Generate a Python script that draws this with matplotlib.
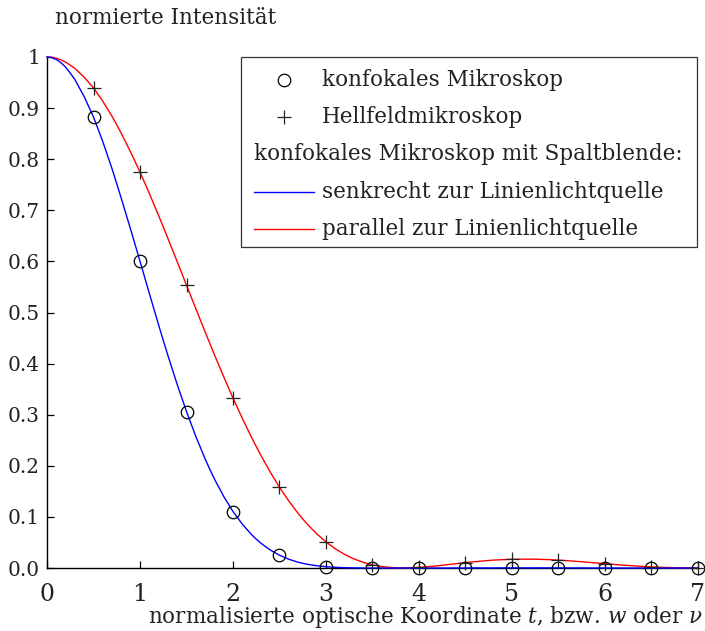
import matplotlib
matplotlib.use("Agg")
import matplotlib.pyplot as plt
from matplotlib.lines import Line2D
from matplotlib.patches import Rectangle

plt.rcParams['font.family'] = ['DejaVu Serif']
plt.rcParams['mathtext.fontset'] = 'dejavuserif'

# normalised optical coordinate
t = [0.0, 0.05, 0.1, 0.15, 0.2, 0.25, 0.3, 0.4, 0.5, 0.6,
     0.7, 0.75, 0.8, 0.9, 1.0, 1.1, 1.2, 1.25, 1.3, 1.4,
     1.5, 1.6, 1.7, 1.75, 1.8, 1.9, 2.0, 2.1, 2.2, 2.25,
     2.3, 2.4, 2.5, 2.6, 2.7, 2.75, 2.8, 2.9, 3.0, 3.1,
     3.2, 3.25, 3.3, 3.4, 3.5, 3.6, 3.75, 3.8, 3.83, 4.0,
     4.2, 4.25, 4.4, 4.5, 4.6, 4.75, 4.8, 5.0,
     5.2, 5.25, 5.4, 5.5, 5.6, 5.75, 5.8, 6.0,
     6.2, 6.25, 6.4, 6.5, 6.6, 6.75, 6.8, 7.0]

# slit confocal microscope, parallel to the line source (red)
parallel = [1.0, 0.9994, 0.9975, 0.9944, 0.9900, 0.9841, 0.9775, 0.9604,
            0.9394, 0.9133,
            0.8836, 0.8671, 0.8501, 0.8136, 0.7748, 0.7331, 0.6897, 0.6675,
            0.6449, 0.5993,
            0.5534, 0.5075, 0.4621, 0.4397, 0.4175, 0.3743, 0.3326, 0.2929,
            0.2555, 0.2376,
            0.2204, 0.1879, 0.1581, 0.1312, 0.1070, 0.0960, 0.0856, 0.0670,
            0.0511, 0.0377,
            0.0267, 0.0220, 0.0179, 0.0111, 0.0062, 0.0028, 0.0003, 0.0001,
            0.0, 0.0011,
            0.0044, 0.0054, 0.0085, 0.0105, 0.0124, 0.0148, 0.0155, 0.0172,
            0.0174, 0.0173, 0.0164, 0.0154, 0.0143, 0.0123, 0.0115, 0.0085,
            0.0056, 0.0050, 0.0032, 0.0022, 0.0014, 0.0006, 0.0004, 0.0]

# slit confocal microscope, perpendicular to the line source (blue)
perpendicular = [1.0, 0.9988, 0.9950, 0.9888, 0.9801, 0.9684, 0.9556, 0.9224,
                 0.8824, 0.8342,
                 0.7808, 0.7519, 0.7226, 0.6620, 0.6003, 0.5374, 0.4757,
                 0.4455, 0.4159, 0.3591,
                 0.3062, 0.2576, 0.2136, 0.1933, 0.1743, 0.1401, 0.1106,
                 0.0858, 0.0653, 0.0565,
                 0.0486, 0.0353, 0.0250, 0.0172, 0.0114, 0.0092, 0.0073,
                 0.0045, 0.0026, 0.0014,
                 0.0007, 0.0005, 0.0003, 0.0001, 0.0, 0.0, 0.0, 0.0, 0.0, 0.0,
                 0.0, 0.0, 0.0001, 0.0001, 0.0002, 0.0002, 0.0002, 0.0003,
                 0.0003, 0.0003, 0.0003, 0.0002, 0.0002, 0.0002, 0.0001,
                 0.0001,
                 0.0, 0.0, 0.0, 0.0, 0.0, 0.0, 0.0, 0.0]

# sampled points
t_pts = [0.5, 1.0, 1.5, 2.0, 2.5, 3.0, 3.5, 4.0, 4.5, 5.0, 5.5, 6.0, 6.5, 7.0]
confocal = [0.8824, 0.6003, 0.3062, 0.1106, 0.0250, 0.0026, 0.0, 0.0, 0.0001,
            0.0003, 0.0002, 0.0001, 0.0, 0.0]
brightfield = [0.9394, 0.7748, 0.5534, 0.3326, 0.1581, 0.0511, 0.0062,
               0.0011, 0.0105, 0.0172, 0.0154, 0.0085, 0.0022, 0.0]

y_ticks = [0.0, 0.1, 0.2, 0.3, 0.4, 0.5, 0.6, 0.7, 0.8, 0.9, 1.0]
y_labels = ['0.0', '0.1', '0.2', '0.3', '0.4', '0.5', '0.6', '0.7', '0.8',
            '0.9', '1']
x_ticks = [0, 1, 2, 3, 4, 5, 6, 7]

legend_labels = ['konfokales Mikroskop', 'Hellfeldmikroskop',
                 'konfokales Mikroskop mit Spaltblende:',
                 'senkrecht zur Linienlichtquelle',
                 'parallel zur Linienlichtquelle']

FS = 15.5
TXT = '#222222'

fig = plt.figure(figsize=(7.05, 6.31), dpi=100)
ax = fig.add_axes([0.0667, 0.0998, 0.9233, 0.8099])

ax.plot(t, parallel, color='#ff0000', lw=1.0, clip_on=False, zorder=3)
ax.plot(t, perpendicular, color='#0000ff', lw=1.0, clip_on=False, zorder=3)
ax.plot(t_pts, confocal, ls='none', marker='o', ms=9, mfc='none',
        mec='black', mew=0.9, clip_on=False, zorder=4)
ax.plot(t_pts, brightfield, ls='none', marker='+', ms=10, mec='#222222',
        mew=0.9, clip_on=False, zorder=4)

ax.set_xlim(0, 7)
ax.set_ylim(0, 1)
ax.set_xticks(x_ticks)
ax.set_yticks(y_ticks)
ax.set_yticklabels(y_labels)
for s in ('top', 'right'):
    ax.spines[s].set_visible(False)
for s in ('left', 'bottom'):
    ax.spines[s].set_linewidth(1.0)
ax.tick_params(direction='in', length=5, width=0.9, labelcolor=TXT)
ax.tick_params(axis='y', labelsize=14.5, pad=5)
ax.tick_params(axis='x', labelsize=17, pad=11)

fig.text(0.078, 0.971, 'normierte Intensität', fontsize=FS, color=TXT,
         ha='left', va='center')
fig.text(0.997, 0.022,
         r'normalisierte optische Koordinate $t$, bzw. $w$ oder $\nu$',
         fontsize=FS, color=TXT, ha='right', va='center')

# legend box
x0, x1 = (241 - 47) / 651, (697 - 47) / 651
y_top, y_bot = 1.0, (568 - 247) / 511
ax.add_patch(Rectangle((x0, y_bot), x1 - x0, y_top - y_bot,
                       transform=ax.transAxes, fill=True, fc='white',
                       ec='#333333', lw=0.9, zorder=5, clip_on=False))
rows = [(568 - y) / 511 for y in (80, 117, 154, 192, 229)]
mx = (284 - 47) / 651
tx = (322 - 47) / 651
hx = (254 - 47) / 651
lx0, lx1 = (254 - 47) / 651, (314 - 47) / 651

ax.add_line(Line2D([mx], [rows[0]], ls='none', marker='o', ms=9, mfc='none',
                   mec='black', mew=0.9, transform=ax.transAxes, zorder=6,
                   clip_on=False))
ax.add_line(Line2D([mx], [rows[1]], ls='none', marker='+', ms=10,
                   mec='#222222', mew=0.9, transform=ax.transAxes, zorder=6,
                   clip_on=False))
ax.add_line(Line2D([lx0, lx1], [rows[3]] * 2, color='#0000ff', lw=1.0,
                   transform=ax.transAxes, zorder=6, clip_on=False))
ax.add_line(Line2D([lx0, lx1], [rows[4]] * 2, color='#ff0000', lw=1.0,
                   transform=ax.transAxes, zorder=6, clip_on=False))
for i, lab in enumerate(legend_labels):
    xx = hx if i == 2 else tx
    ax.text(xx, rows[i], lab, transform=ax.transAxes, fontsize=FS, color=TXT,
            ha='left', va='center', zorder=7)

fig.savefig('out.png', dpi=100)
